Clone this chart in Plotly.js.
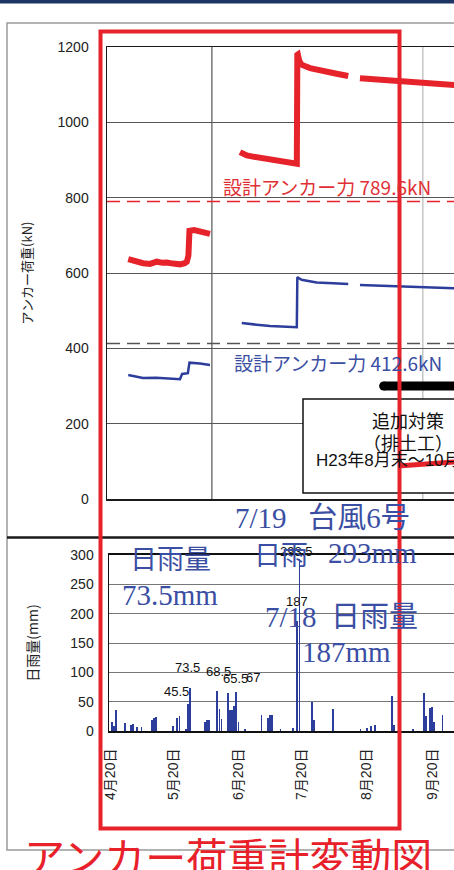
<!DOCTYPE html>
<html><head><meta charset="utf-8">
<script src="https://cdn.plot.ly/plotly-3.0.1.min.js"></script>
<style>html,body{margin:0;padding:0;overflow:hidden;background:#fff;width:454px;height:870px}#chart{width:500px;height:870px}</style>
</head><body><div id="chart"></div><script>
// ---- data ----
const largeAnchorDates = ['2011-04-28 16:00','2011-05-02 00:00','2011-05-05 16:00','2011-05-09 00:00','2011-05-12 06:00','2011-05-15 00:00','2011-05-17 00:00','2011-05-20 00:00','2011-05-23 06:00','2011-05-25 12:00','2011-05-26 12:00','2011-05-27 06:00','2011-05-27 18:00','2011-05-30 00:00','2011-06-01 18:00','2011-06-04 00:00','2011-06-06 12:00','2011-06-13 00:00','2011-06-20 18:00','2011-06-24 00:00','2011-06-26 22:00','2011-06-30 00:00','2011-07-03 14:00','2011-07-07 00:00','2011-07-11 04:00','2011-07-14 00:00','2011-07-16 00:00','2011-07-17 18:00','2011-07-18 00:00','2011-07-18 06:00','2011-07-19 00:00','2011-07-20 00:00','2011-07-24 00:00','2011-07-30 04:00','2011-08-05 16:00','2011-08-11 04:00','2011-08-14 00:00','2011-08-16 18:00','2011-08-22 00:00','2011-08-27 16:00','2011-09-04 18:00','2011-09-12 00:00','2011-09-20 10:00','2011-09-30 10:00','2011-10-10 00:00','2011-10-23 00:00'];
const largeAnchorKN = [637,631,626,624,630,627,628,625,623,626,630,646,712,714,710,708,704,null,921,912,909,906,905,901,898,895,893,890,1179,1180,1162,1153,1144,1135,1129,1123,null,1117,1115,1113,1108,1105,1102,1097,1094,1090];

const smallAnchorDates = ['2011-04-28 16:00','2011-05-05 16:00','2011-05-12 00:00','2011-05-17 00:00','2011-05-23 06:00','2011-05-24 06:00','2011-05-27 00:00','2011-05-27 18:00','2011-06-01 18:00','2011-06-06 12:00','2011-06-13 00:00','2011-06-21 14:00','2011-06-28 16:00','2011-07-05 00:00','2011-07-17 18:00','2011-07-18 00:00','2011-07-18 06:00','2011-07-20 00:00','2011-07-27 04:00','2011-08-04 00:00','2011-08-11 04:00','2011-08-14 00:00','2011-08-16 18:00','2011-09-04 18:00','2011-09-20 10:00','2011-09-30 10:00','2011-10-23 00:00'];
const smallAnchorKN = [329,321,322,321,318,332,334,362,360,356,null,467,462,459,456,589,588,582,575,573,571,null,568,564,560,558,555];

const designLargeKN = 789.6;
const designSmallKN = 412.6;
const periodBarStart = '2011-08-28';
const periodBarEnd = '2011-11-30';
const periodBarKN = 300;

const rainDates = ['2011-04-21','2011-04-22','2011-04-23','2011-04-27','2011-04-30','2011-05-01','2011-05-03','2011-05-05','2011-05-10','2011-05-11','2011-05-12','2011-05-20','2011-05-22','2011-05-23','2011-05-26','2011-05-27','2011-05-28','2011-06-04','2011-06-05','2011-06-06','2011-06-10','2011-06-11','2011-06-12','2011-06-15','2011-06-16','2011-06-17','2011-06-18','2011-06-19','2011-06-20','2011-06-23','2011-07-01','2011-07-04','2011-07-05','2011-07-06','2011-07-10','2011-07-16','2011-07-18','2011-07-19','2011-07-25','2011-07-26','2011-08-04','2011-08-17','2011-08-20','2011-08-22','2011-08-24','2011-09-01','2011-09-02','2011-09-11','2011-09-16','2011-09-17','2011-09-19','2011-09-20','2011-09-21','2011-09-25'];
const rainMm = [16,8,35,14,10,12,7,6,18,22,24,9,22,25,4,45.5,73.5,16,18,18,68.5,38,20,65.5,35,36,43,67,15,3,27,22,27,27,3,5,187,293.5,50,18,38,3,5,9,10,59,10,3,65,25,40,41,15,27];

const labelDates = ['2011-05-27','2011-05-28','2011-06-10','2011-06-15','2011-06-19','2011-07-18','2011-07-19'];
const labelMm = [45.5,73.5,68.5,65.5,67,187,293.5];
const labelText = ['45.5','73.5','68.5','65.5','67','187','293.5'];

const monthTickDates = ['2011-04-20','2011-05-20','2011-06-20','2011-07-20','2011-08-20','2011-09-20','2011-10-20'];
const monthTickText = ['4月20日','5月20日','6月20日','7月20日','8月20日','9月20日','10月20日'];
const loadTicks = [0,200,400,600,800,1000,1200];
const rainTicks = [0,50,100,150,200,250,300];
const topGridDates = ['2011-06-07 10:00','2011-09-15 15:00'];

// ---- geometry helpers ----
const W = 500, H = 870;
const DAY = 86400000, T0 = Date.UTC(2011,3,20), PXD = 2.105, X0 = 110;
const pxDate = x => T0 + (x - X0) / PXD * DAY;
const px = x => x / W;
const py = y => 1 - y / H;

const RED = '#e6222b', BLUE = '#2c3d9b', TXTBLUE = '#3a4ea3';
const SANS = 'Liberation Sans, Noto Sans CJK JP, sans-serif';
const CJK = 'Noto Sans CJK JP, sans-serif';
const SERIF = 'Liberation Serif, Noto Sans CJK JP, serif';

const traces = [
  {x: largeAnchorDates, y: largeAnchorKN, xaxis:'x', yaxis:'y', type:'scatter', mode:'lines',
   line:{color:RED, width:6}, connectgaps:false, hoverinfo:'skip'},
  {x: smallAnchorDates, y: smallAnchorKN, xaxis:'x', yaxis:'y', type:'scatter', mode:'lines',
   line:{color:BLUE, width:2.5}, connectgaps:false, hoverinfo:'skip'},
  {x: rainDates, y: rainMm, xaxis:'x2', yaxis:'y2', type:'bar', width: DAY*0.85,
   marker:{color:BLUE, line:{width:0}}, hoverinfo:'skip'}
];

const shapes = [
  {type:'rect', xref:'paper', yref:'paper', x0:px(0), x1:px(W), y0:py(0), y1:py(3.5), fillcolor:'#1e3563', line:{width:0}},
  {type:'rect', xref:'paper', yref:'paper', x0:px(7), x1:px(W+20), y0:py(23), y1:py(850), line:{color:'#9a9a9a', width:1.5}, layer:'below'},
  {type:'line', xref:'paper', yref:'paper', x0:px(7), x1:px(W+20), y0:py(537.5), y1:py(537.5), line:{color:'#1a1a1a', width:2.5}},
  {type:'line', xref:'x', yref:'y domain', x0:topGridDates[0], x1:topGridDates[0], y0:0, y1:1, line:{color:'#333', width:1}, layer:'below'},
  {type:'line', xref:'x', yref:'y domain', x0:topGridDates[1], x1:topGridDates[1], y0:0, y1:1, line:{color:'#aaa', width:1}, layer:'below'},
  {type:'line', xref:'x domain', yref:'y', x0:0, x1:1, y0:designLargeKN, y1:designLargeKN, line:{color:RED, width:1.5, dash:'13px,7px'}},
  {type:'line', xref:'x domain', yref:'y', x0:0, x1:1, y0:designSmallKN, y1:designSmallKN, line:{color:'#555', width:1.5, dash:'13px,7px'}},
  {type:'line', xref:'x', yref:'y', x0:periodBarStart, x1:periodBarEnd, y0:periodBarKN, y1:periodBarKN, line:{color:'#000', width:9}},
  {type:'circle', xref:'x', yref:'y', xsizemode:'pixel', ysizemode:'pixel', xanchor:periodBarStart, yanchor:periodBarKN, x0:-4.5, x1:4.5, y0:-4.5, y1:4.5, fillcolor:'#000', line:{width:0}},
  {type:'rect', xref:'paper', yref:'paper', x0:px(303), x1:px(W+20), y0:py(399), y1:py(493), fillcolor:'#fff', line:{color:'#111', width:1.5}},
  {type:'line', xref:'paper', yref:'paper', x0:px(398), x1:px(470), y0:py(466), y1:py(461), line:{color:RED, width:5}},
  {type:'rect', xref:'paper', yref:'paper', x0:px(100.5), x1:px(399.5), y0:py(31.5), y1:py(828.5), line:{color:RED, width:4}}
];

function txt(x, y, text, size, color, family, xanchor, extra){
  return Object.assign({xref:'paper', yref:'paper', x:px(x), y:py(y), text:text, showarrow:false,
    xanchor:xanchor||'left', yanchor:'middle', font:{size:size, color:color, family:family}}, extra||{});
}

const shifts = [[-11,13],[-2,20],[1,19],[8,14],[17,14],[0,20],[-3,7]];
const annotations = labelDates.map((d,i) => ({xref:'x2', yref:'y2', x:d, y:labelMm[i], text:labelText[i],
  showarrow:false, xanchor:'center', yanchor:'middle', xshift:shifts[i][0], yshift:shifts[i][1],
  font:{size:13, color:'#111', family:SANS}}));

annotations.push(
  txt(221, 187, '設計アンカー力 789.6kN', 19, '#e03035', CJK),
  txt(232, 362, '設計アンカー力 412.6kN', 19, TXTBLUE, CJK),
  txt(408, 420, '追加対策', 18, '#111', CJK, 'center'),
  txt(408, 442, '（排土工）', 18, '#111', CJK, 'center'),
  txt(314, 460, 'H23年8月末～10月末', 17, '#111', SANS),
  txt(233, 518, '7/19   台風6号', 29, TXTBLUE, SERIF),
  txt(128, 557, '日雨量', 27, TXTBLUE, CJK),
  txt(120, 595, '73.5mm', 29, TXTBLUE, SERIF),
  txt(252, 553, '日雨', 27, TXTBLUE, CJK),
  txt(326, 553, '293mm', 29, TXTBLUE, SERIF),
  txt(263, 617, '7/18  日雨量', 29, TXTBLUE, SERIF),
  txt(300, 652, '187mm', 29, TXTBLUE, SERIF),
  txt(228, 855, 'アンカー荷重計変動図', 41, '#e8202a', CJK, 'center')
);

const layout = {
  width: W, height: H, margin:{l:0, r:0, t:0, b:0},
  paper_bgcolor:'#fff', plot_bgcolor:'#fff', showlegend:false, bargap:0,
  font:{family:SANS, color:'#222'},
  xaxis:{domain:[px(107),1], range:[pxDate(107), pxDate(W)], type:'date', showticklabels:false, ticks:'',
    showgrid:false, zeroline:false, showline:true, mirror:true, linecolor:'#1a1a1a', linewidth:1.5, fixedrange:true},
  yaxis:{domain:[py(499), py(47)], range:[0,1200], tickvals:loadTicks, ticks:'', ticklabelstandoff:14,
    tickfont:{size:14, color:'#222', family:SANS}, showgrid:true, gridcolor:'#555', gridwidth:1,
    zeroline:false, showline:true, mirror:true, linecolor:'#1a1a1a', linewidth:1.5,
    title:{text:'アンカー荷重(kN)', font:{size:13, family:CJK, color:'#222'}, standoff:22}},
  xaxis2:{domain:[px(109),1], range:[pxDate(109), pxDate(W)], type:'date', anchor:'y2',
    tickvals:monthTickDates, ticktext:monthTickText, tickangle:-90, ticks:'', ticklabelstandoff:10,
    tickfont:{size:14, color:'#222', family:SANS}, showgrid:false, zeroline:false,
    showline:true, mirror:true, linecolor:'#111', linewidth:2, fixedrange:true},
  yaxis2:{domain:[py(731), py(555)], range:[0,300], tickvals:rainTicks, ticks:'', ticklabelstandoff:11, anchor:'x2',
    tickfont:{size:14, color:'#222', family:SANS}, showgrid:true, gridcolor:'#777', gridwidth:1,
    zeroline:false, showline:true, linecolor:'#111', linewidth:1.5,
    title:{text:'日雨量(mm)', font:{size:14, family:CJK, color:'#222'}, standoff:28}},
  shapes: shapes,
  annotations: annotations
};

Plotly.newPlot('chart', traces, layout, {staticPlot:true, displayModeBar:false});
</script></body></html>
